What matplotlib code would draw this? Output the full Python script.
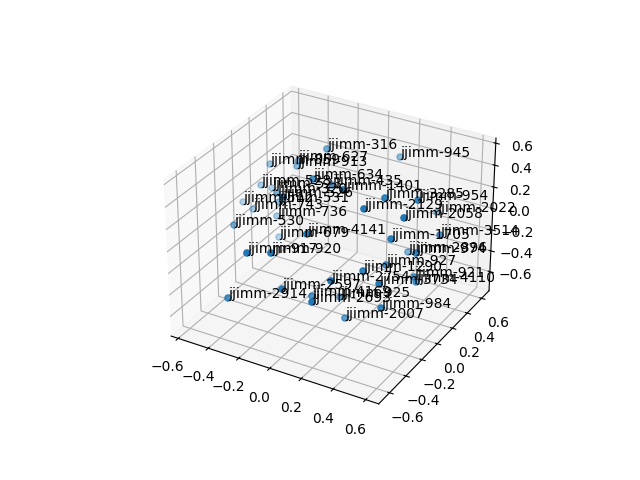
import matplotlib
matplotlib.use("Agg")
import matplotlib.pyplot as plt

names = ["316", "945", "859", "627", "913", "528", "523", "526", "320", "512", "743", "531", "736", "530", "679",
         "4141", "917", "920", "2914", "2597", "2693", "4169", "925", "2007", "984", "3734", "2754", "1290", "927",
         "2896", "974", "921", "4110", "1705", "3514", "2058", "2022", "954", "3285", "2129", "1401", "435", "634"]
labels = ["jjimm-" + n for n in names]

x = [-0.113, 0.203, -0.446, -0.287, -0.285, -0.488, -0.457, -0.107, -0.292, -0.58, -0.493, -0.322, -0.366, -0.454,
     -0.353, 0.101, -0.151, -0.04, -0.278, 0.036, 0.215, 0.115, 0.203, 0.255, 0.5, 0.501, 0.275, 0.366, 0.422,
     0.397, 0.589, 0.57, 0.565, 0.475, 0.636, 0.528, 0.459, 0.527, 0.37, 0.331, 0.209, 0.011, -0.039]
y = [0.155, 0.45, 0.084, 0.13, 0.114, 0.048, 0.122, -0.365, -0.109, -0.005, -0.04, -0.035, 0.015, -0.322, 0.012,
     -0.473, -0.694, -0.625, -0.699, -0.642, -0.629, -0.447, -0.28, -0.319, -0.36, -0.39, -0.521, -0.319, -0.15,
     0.177, -0.119, -0.098, -0.06, -0.2, 0.085, -0.153, 0.418, 0.02, -0.071, -0.246, -0.259, -0.015, -0.146]
z = [0.581, 0.449, 0.361, 0.421, 0.386, 0.174, 0.112, 0.475, 0.276, 0.013, 0.004, 0.135, -0.045, 0.055, -0.236,
     0.302, 0.176, 0.176, -0.283, -0.103, -0.15, -0.269, -0.359, -0.503, -0.27, -0.03, -0.01, -0.021, -0.059,
     -0.173, 0.099, -0.141, -0.215, 0.231, 0.144, 0.409, 0.065, 0.455, 0.469, 0.469, 0.595, 0.408, 0.524]

fig = plt.figure()
ax = fig.add_subplot(projection="3d")
ax.scatter(x, y, z)
for a, b, c, name in zip(x, y, z, labels):
    ax.text(a, b, c, name)

ax.set_xlim(-0.648, 0.679)
ax.set_ylim(-0.73, 0.705)
ax.set_zlim(-0.786, 0.646)

fig.savefig("out.png")
